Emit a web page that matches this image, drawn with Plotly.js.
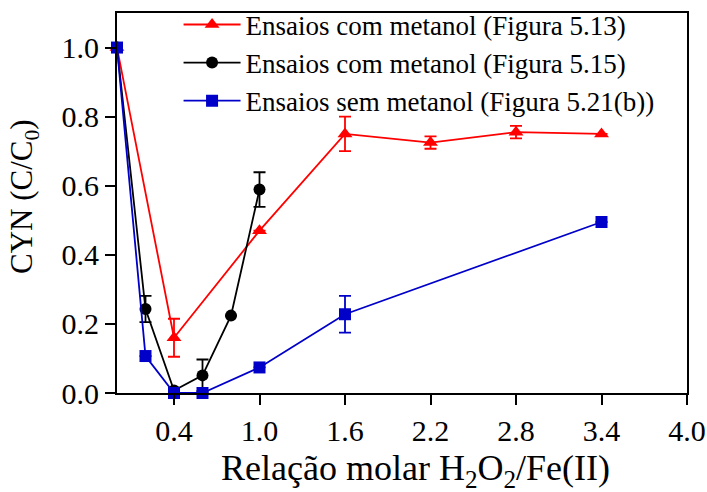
<!DOCTYPE html>
<html>
<head>
<meta charset="utf-8">
<script src="https://cdn.plot.ly/plotly-3.0.1.min.js"></script>
<style>html,body{margin:0;padding:0;background:#fff;}#chart{width:707px;height:492px;}</style>
</head>
<body>
<div id="chart"></div>
<script>
// Series: Ensaios com metanol (Figura 5.13)
const redX = [0, 0.4, 1.0, 1.6, 2.2, 2.8, 3.4];
const redY = [1.0, 0.16, 0.47, 0.75, 0.725, 0.755, 0.75];
const redErr = [0, 0.055, 0, 0.05, 0.018, 0.018, 0];
// Series: Ensaios com metanol (Figura 5.15)
const blackX = [0, 0.2, 0.4, 0.6, 0.8, 1.0];
const blackY = [1.0, 0.243, 0.007, 0.051, 0.224, 0.589];
const blackErr = [0, 0.038, 0, 0.046, 0, 0.05];
// Series: Ensaios sem metanol (Figura 5.21(b))
const blueX = [0, 0.2, 0.4, 0.6, 1.0, 1.6, 3.4];
const blueY = [1.0, 0.107, 0.0, 0.0, 0.074, 0.228, 0.495];
const blueErr = [0, 0, 0, 0, 0, 0.053, 0];

const names = ["Ensaios com metanol (Figura 5.13)", "Ensaios com metanol (Figura 5.15)", "Ensaios sem metanol (Figura 5.21(b))"];
const xTicks = [0.4, 1.0, 1.6, 2.2, 2.8, 3.4, 4.0];
const yTicks = [0.0, 0.2, 0.4, 0.6, 0.8, 1.0];
const xTitle = "Relação molar H<sub>2</sub>O<sub>2</sub>/Fe(II)";
const yTitle = "CYN (C/C<sub>0</sub>)";

const font = "Liberation Serif";
const RED = "#ff0000", BLACK = "#000000", BLUE = "#0000c8";

function tr(x, y, err, name, color, symbol, size) {
  return {
    x: x, y: y, name: name, type: "scatter", mode: "lines+markers",
    cliponaxis: false,
    line: {color: color, width: 1.8},
    marker: {color: color, symbol: symbol, size: size},
    error_y: {type: "data", array: err, visible: true, color: color, thickness: 1.8, width: 6}
  };
}

const data = [
  tr(redX, redY, redErr, names[0], RED, "triangle-up", 13),
  tr(blackX, blackY, blackErr, names[1], BLACK, "circle", 12),
  tr(blueX, blueY, blueErr, names[2], BLUE, "square", 12)
];

const layout = {
  width: 707, height: 492,
  margin: {l: 117, r: 20, t: 13, b: 99, autoexpand: false},
  paper_bgcolor: "#fff", plot_bgcolor: "#fff",
  font: {family: font, color: "#000", size: 27},
  showlegend: true,
  legend: {x: 0.108, y: 1.033, xanchor: "left", yanchor: "top", bgcolor: "rgba(0,0,0,0)",
           itemwidth: 57, font: {family: font, size: 27, color: "#000"}, tracegroupgap: 0},
  xaxis: {
    range: [0, 4.0], tickvals: xTicks, tickformat: ".1f",
    showline: true, mirror: true, linecolor: "#000", linewidth: 2,
    ticks: "outside", ticklen: 10, tickwidth: 2, tickcolor: "#000",
    showgrid: false, zeroline: false, automargin: false,
    tickfont: {family: font, size: 30, color: "#000"}
  },
  yaxis: {
    range: [0, 1.1], tickvals: yTicks, tickformat: ".1f",
    showline: true, mirror: true, linecolor: "#000", linewidth: 2,
    ticks: "outside", ticklen: 10, tickwidth: 2, tickcolor: "#000",
    showgrid: false, zeroline: false, automargin: false,
    tickfont: {family: font, size: 30, color: "#000"}
  },
  annotations: [
    {text: xTitle, xref: "paper", yref: "paper", x: 0.523, y: -0.205, xanchor: "center", yanchor: "middle",
     showarrow: false, font: {family: font, size: 36, color: "#000"}},
    {text: yTitle, xref: "paper", yref: "paper", x: -0.163, y: 0.516, xanchor: "center", yanchor: "middle",
     textangle: -90, showarrow: false, font: {family: font, size: 31, color: "#000"}}
  ]
};

Plotly.newPlot("chart", data, layout, {displayModeBar: false, staticPlot: true});
</script>
</body>
</html>
